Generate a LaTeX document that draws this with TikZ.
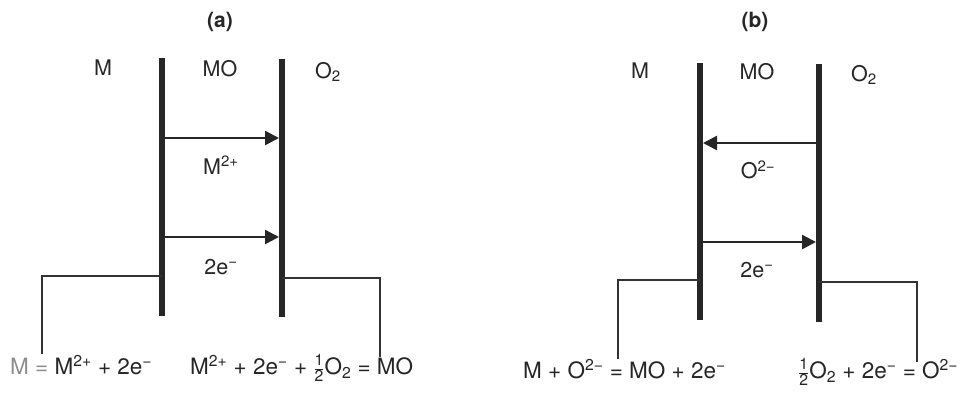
\documentclass[tikz,border=0pt]{standalone}
\usepackage{amsmath}
\usepackage{fontspec}
\setmainfont{TeX Gyre Heros}
\usetikzlibrary{arrows.meta}
\newcommand{\hlf}{\ensuremath{\genfrac{}{}{0.4pt}{1}{\text{1}}{\text{2}}}}
\newcommand{\emin}{e\textsuperscript{−}}
\begin{document}
\begin{tikzpicture}[x=1pt,y=-1pt,
  bar/.style={line width=6.5pt, draw=black!85},
  wire/.style={line width=2pt, draw=black!80},
  flow/.style={line width=2.5pt, draw=black!85, -{Triangle[length=14pt,width=14pt]}},
  lbl/.style={font=\fontsize{21.5}{24}\selectfont, text=black!85, inner sep=0pt},
  eqn/.style={font=\fontsize{22.5}{26}\selectfont, text=black!85, inner sep=0pt, anchor=base west},
  ttl/.style={font=\fontsize{21}{24}\selectfont\bfseries, text=black!85, inner sep=0pt}]
\useasboundingbox (0,0) rectangle (963,392);
% ---------- panel (a)
\node[ttl] (ta) at (220,22) {(a)};
\node[lbl] (aM) at (103,68) {M};
\node[lbl] (aMO) at (220,69) {MO};
\node[lbl] (aO) at (328,72) {O\textsubscript{2}};
\coordinate (aLt) at (162,58); \coordinate (aLb) at (162,316);
\coordinate (aRt) at (282,59); \coordinate (aRb) at (282,317);
\draw[bar] (aLt) -- (aLb);
\draw[bar] (aRt) -- (aRb);
\coordinate (a1s) at (165,138); \coordinate (a1e) at (279,138);
\coordinate (a2s) at (165,237); \coordinate (a2e) at (279,237);
\draw[flow] (a1s) -- (a1e);
\draw[flow] (a2s) -- (a2e);
\node[lbl] (aion) at (221,165) {M\textsuperscript{2+}};
\node[lbl] (ael) at (221,267) {2\emin};
\coordinate (aLw) at (162,276); \coordinate (aLc) at (42,276); \coordinate (aLe) at (42,354);
\coordinate (aRw) at (282,278); \coordinate (aRc) at (380,278); \coordinate (aRe) at (380,357);
\draw[wire] (aLw) -- (aLc) -- (aLe);
\draw[wire] (aRw) -- (aRc) -- (aRe);
\node[eqn] (aeq1) at (10,374) {\textcolor{black!45}{M =} M\textsuperscript{2+} + 2\emin};
\node[eqn] (aeq2) at (190,374) {M\textsuperscript{2+} + 2\emin{} + \hlf O\textsubscript{2} = MO};
% ---------- panel (b)
\node[ttl] (tb) at (755,22) {(b)};
\node[lbl] (bM) at (640,71) {M};
\node[lbl] (bMO) at (757,72) {MO};
\node[lbl] (bO) at (864,75) {O\textsubscript{2}};
\coordinate (bLt) at (700,63); \coordinate (bLb) at (700,320);
\coordinate (bRt) at (819,64); \coordinate (bRb) at (819,322);
\draw[bar] (bLt) -- (bLb);
\draw[bar] (bRt) -- (bRb);
\coordinate (b1s) at (816,143); \coordinate (b1e) at (703,143);
\coordinate (b2s) at (703,242); \coordinate (b2e) at (816,242);
\draw[flow] (b1s) -- (b1e);
\draw[flow] (b2s) -- (b2e);
\node[lbl] (bion) at (758,170) {O\textsuperscript{2−}};
\node[lbl] (bel) at (757,270) {2\emin};
\coordinate (bLw) at (700,280); \coordinate (bLc) at (618,280); \coordinate (bLe) at (618,359);
\coordinate (bRw) at (819,282); \coordinate (bRc) at (917,282); \coordinate (bRe) at (917,362);
\draw[wire] (bLw) -- (bLc) -- (bLe);
\draw[wire] (bRw) -- (bRc) -- (bRe);
\node[eqn] (beq1) at (523,378) {M + O\textsuperscript{2−} = MO + 2\emin};
\node[eqn] (beq2) at (798,378) {\hlf O\textsubscript{2} + 2\emin{} = O\textsuperscript{2−}};
\end{tikzpicture}
\end{document}
